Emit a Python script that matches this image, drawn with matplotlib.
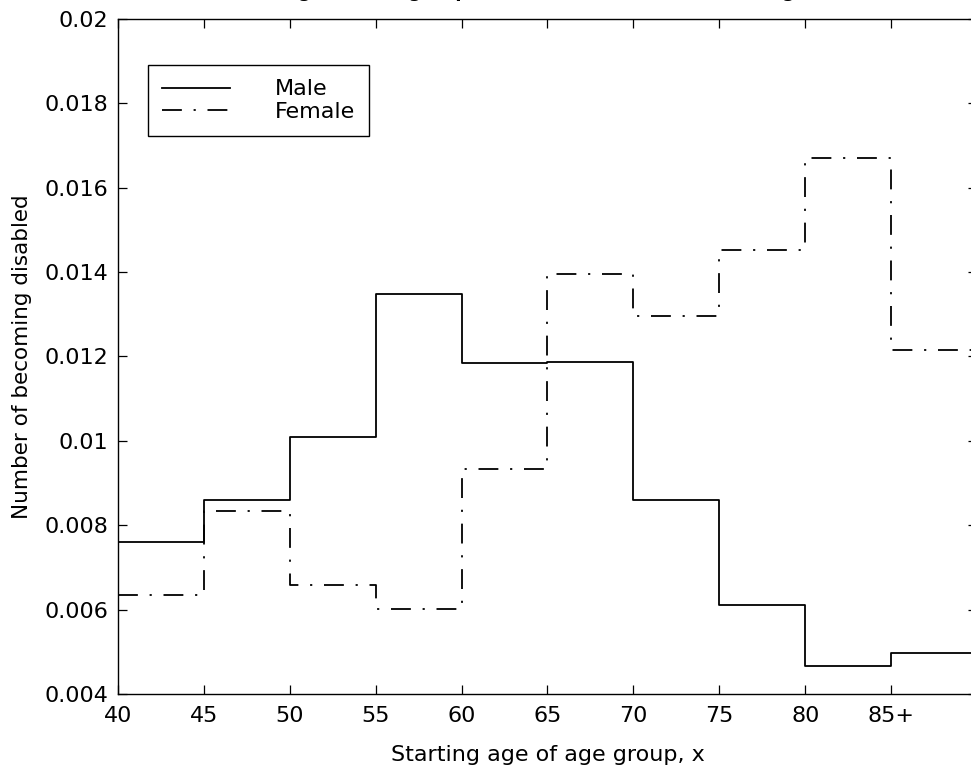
import numpy as np
import matplotlib.pyplot as plt

# starting age of each age group (last group is 85+)
age_edges = [40, 45, 50, 55, 60, 65, 70, 75, 80, 85, 90]
male = [0.0076, 0.0086, 0.0101, 0.01348, 0.01184, 0.01188,
        0.00859, 0.00612, 0.00466, 0.00498]
female = [0.00635, 0.00834, 0.00658, 0.00601, 0.00933, 0.01396,
          0.01295, 0.01452, 0.0167, 0.01215]

x_ticks = [40, 45, 50, 55, 60, 65, 70, 75, 80, 85]
x_tick_labels = ['40', '45', '50', '55', '60', '65', '70', '75', '80', '85+']
y_ticks = [0.004, 0.006, 0.008, 0.01, 0.012, 0.014, 0.016, 0.018, 0.02]
y_tick_labels = ['0.004', '0.006', '0.008', '0.01', '0.012', '0.014',
                 '0.016', '0.018', '0.02']

title = 'Percentage in each group of males and females becoming disabled'

plt.rcParams['font.family'] = ['DejaVu Sans']

fig = plt.figure(figsize=(9.71, 7.71), dpi=100)
ax = fig.add_axes([0.1215, 0.0999, 0.8847, 0.8755])

# step plots, value held over each 5-year group
m_vals = np.append(male, male[-1])
f_vals = np.append(female, female[-1])
ax.step(age_edges, m_vals, where='post', color='black', lw=1.3,
        label='Male')
ax.step(age_edges, f_vals, where='post', color='black', lw=1.3,
        linestyle=(0, (11, 6.5, 1.2, 6.5)), label='Female')

ax.set_xlim(40, 90)
ax.set_ylim(0.004, 0.02)
ax.set_xticks(x_ticks)
ax.set_xticklabels(x_tick_labels)
ax.set_yticks(y_ticks)
ax.set_yticklabels(y_tick_labels)
ax.tick_params(direction='in', length=6.5, width=0.9, top=True,
               right=True, labelsize=16)
ax.tick_params(axis='x', pad=9)
ax.tick_params(axis='y', pad=7)
for s in ax.spines.values():
    s.set_linewidth(1.0)

ax.set_xlabel('Starting age of age group, x', fontsize=16, labelpad=13)
ax.set_ylabel('Number of becoming disabled', fontsize=15.5, labelpad=9)
# title sits above the visible area, only its lower part shows
ax.annotate(title, xy=(0.5, 1.0), xycoords='axes fraction',
            xytext=(0, 15.5), textcoords='offset points', ha='center',
            va='baseline', fontsize=13, fontweight='bold')

leg = ax.legend(loc='upper left', bbox_to_anchor=(0.035, 0.932),
                borderaxespad=0, fancybox=False, framealpha=1,
                edgecolor='black', fontsize=16, handlelength=3.06,
                handletextpad=1.98, labelspacing=0.1, borderpad=0.65)
leg.get_frame().set_linewidth(1.0)

fig.savefig('out.png', dpi=100)
